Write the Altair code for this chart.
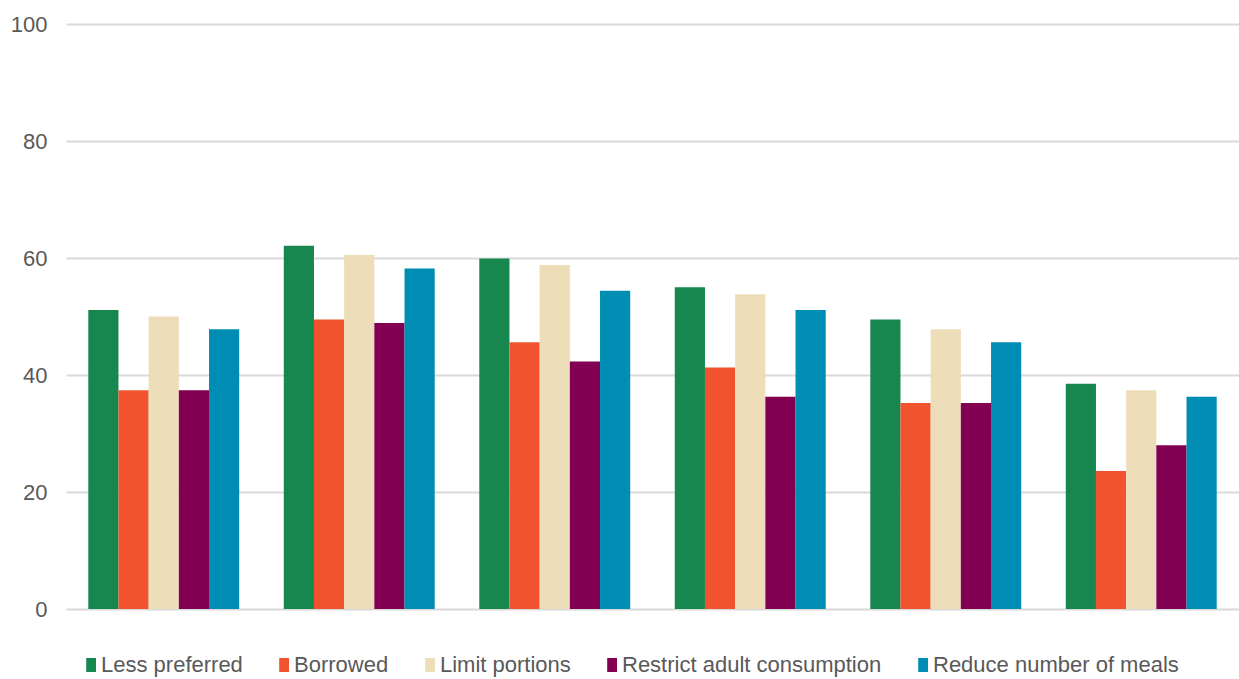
import altair as alt
import pandas as pd

groups = ["1", "2", "3", "4", "5", "6"]
series = ["Less preferred", "Borrowed", "Limit portions", "Restrict adult consumption", "Reduce number of meals"]
colors = ["#17874F", "#F0532D", "#EDDDB9", "#820051", "#008DB3"]

less_preferred = [51.1, 62.1, 59.9, 55.0, 49.5, 38.5]
borrowed = [37.4, 49.5, 45.6, 41.3, 35.2, 23.6]
limit_portions = [50.0, 60.5, 58.8, 53.8, 47.8, 37.4]
restrict_adult = [37.4, 48.9, 42.3, 36.3, 35.2, 28.0]
reduce_meals = [47.8, 58.2, 54.4, 51.1, 45.6, 36.3]

values = [less_preferred, borrowed, limit_portions, restrict_adult, reduce_meals]
rows = []
for s, vals in zip(series, values):
    for g, v in zip(groups, vals):
        rows.append({"group": g, "series": s, "value": v})
df = pd.DataFrame(rows)

FONT = "Liberation Sans"
RECT = "M-0.4,-1L1.0,-1L1.0,1L-0.4,1Z"

chart = alt.Chart(df).mark_bar().encode(
    x=alt.X("group:N", sort=groups,
            scale=alt.Scale(paddingInner=0.228, paddingOuter=0.114),
            axis=alt.Axis(labels=False, ticks=False, title=None, grid=False, domain=False)),
    xOffset=alt.XOffset("series:N", sort=series),
    y=alt.Y("value:Q", scale=alt.Scale(domain=[0, 100]),
            axis=alt.Axis(values=[0, 20, 40, 60, 80, 100], title=None, domain=False, ticks=False,
                          grid=True, gridColor="#d9d9d9", gridWidth=2,
                          labelFont=FONT, labelFontSize=22, labelColor="#595959", labelPadding=19)),
    color=alt.Color("series:N", sort=series, scale=alt.Scale(domain=series, range=colors),
                    legend=alt.Legend(title=None, orient="none", direction="horizontal",
                                      legendX=12, legendY=630,
                                      symbolType=RECT, symbolSize=196, symbolStrokeWidth=0,
                                      labelFont=FONT, labelFontSize=22, labelColor="#595959",
                                      labelOffset=1, columnPadding=28, labelLimit=400)),
).properties(
    width=1173, height=585,
    background="white",
    autosize=alt.AutoSizeParams(type="none"),
    padding={"left": 66, "top": 24, "right": 0, "bottom": 70},
).configure_view(stroke="transparent", strokeWidth=0)

chart.save("out.html", embed_options={"renderer": "svg", "actions": False})
